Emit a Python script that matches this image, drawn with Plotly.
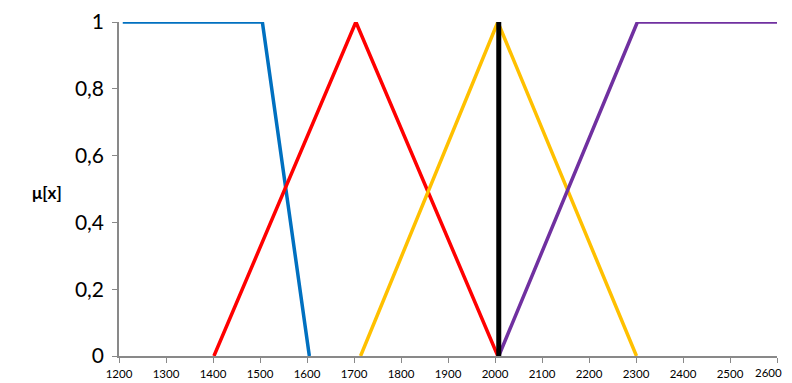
import plotly.graph_objects as go

blue_x = [1208, 1505, 1605]
blue_y = [1, 1, 0]
red_x = [1402, 1704, 2006]
red_y = [0, 1, 0]
yellow_x = [1714, 2006, 2301]
yellow_y = [0, 1, 0]
black_x = [2008, 2008]
black_y = [0, 1]
purple_x = [2008, 2303, 2600]
purple_y = [0, 1, 1]

x_ticks = list(range(1200, 2601, 100))
x_ticktext = [str(v) for v in x_ticks]
y_ticks = [0, 0.2, 0.4, 0.6, 0.8, 1]
y_ticktext = ["0", "0,2", "0,4", "0,6", "0,8", "1"]

fig = go.Figure()
fig.add_trace(go.Scatter(x=blue_x, y=blue_y, mode="lines", line=dict(color="#0070C0", width=3.5), cliponaxis=False))
fig.add_trace(go.Scatter(x=red_x, y=red_y, mode="lines", line=dict(color="#FF0000", width=3.5), cliponaxis=False))
fig.add_trace(go.Scatter(x=yellow_x, y=yellow_y, mode="lines", line=dict(color="#FFC000", width=3.5), cliponaxis=False))
fig.add_trace(go.Scatter(x=purple_x, y=purple_y, mode="lines", line=dict(color="#7030A0", width=3.5), cliponaxis=False))
fig.add_trace(go.Scatter(x=black_x, y=black_y, mode="lines", line=dict(color="#000000", width=5), cliponaxis=False))

fig.update_layout(
    width=784, height=375,
    margin=dict(l=111, r=15, t=14, b=27),
    paper_bgcolor="white", plot_bgcolor="white",
    showlegend=False,
    font=dict(family="Lato, Open Sans, Liberation Sans, sans-serif", color="#000000"),
)
# last tick label is drawn as an annotation so that it stays inside the visible page
fig.update_xaxes(
    range=[1200, 2600], tickvals=x_ticks, ticktext=x_ticktext[:-1] + [""],
    ticks="outside", ticklen=5,
    tickcolor="#898989", showline=True, linecolor="#898989", linewidth=1.5,
    showgrid=False, zeroline=False, tickfont=dict(size=11.5), ticklabelstandoff=1,
    automargin=False,
)
fig.add_annotation(
    text=x_ticktext[-1], x=x_ticks[-1], xref="x", y=0, yref="paper",
    xanchor="right", yanchor="top", xshift=7, yshift=-8, showarrow=False,
    font=dict(size=11.5, color="#000000"),
)
fig.update_yaxes(
    range=[0, 1], tickvals=y_ticks, ticktext=y_ticktext, ticks="outside", ticklen=5,
    tickcolor="#898989", showline=True, linecolor="#898989", linewidth=1.5,
    showgrid=False, zeroline=False, tickfont=dict(size=21), ticklabelstandoff=4,
    automargin=False,
)
fig.add_annotation(
    text="<b>μ[x]</b>", x=0, y=0.49, xref="paper", yref="paper",
    xanchor="center", yanchor="middle", xshift=-72, showarrow=False,
    font=dict(size=17, color="#000000"),
)
fig.write_html("out.html")
